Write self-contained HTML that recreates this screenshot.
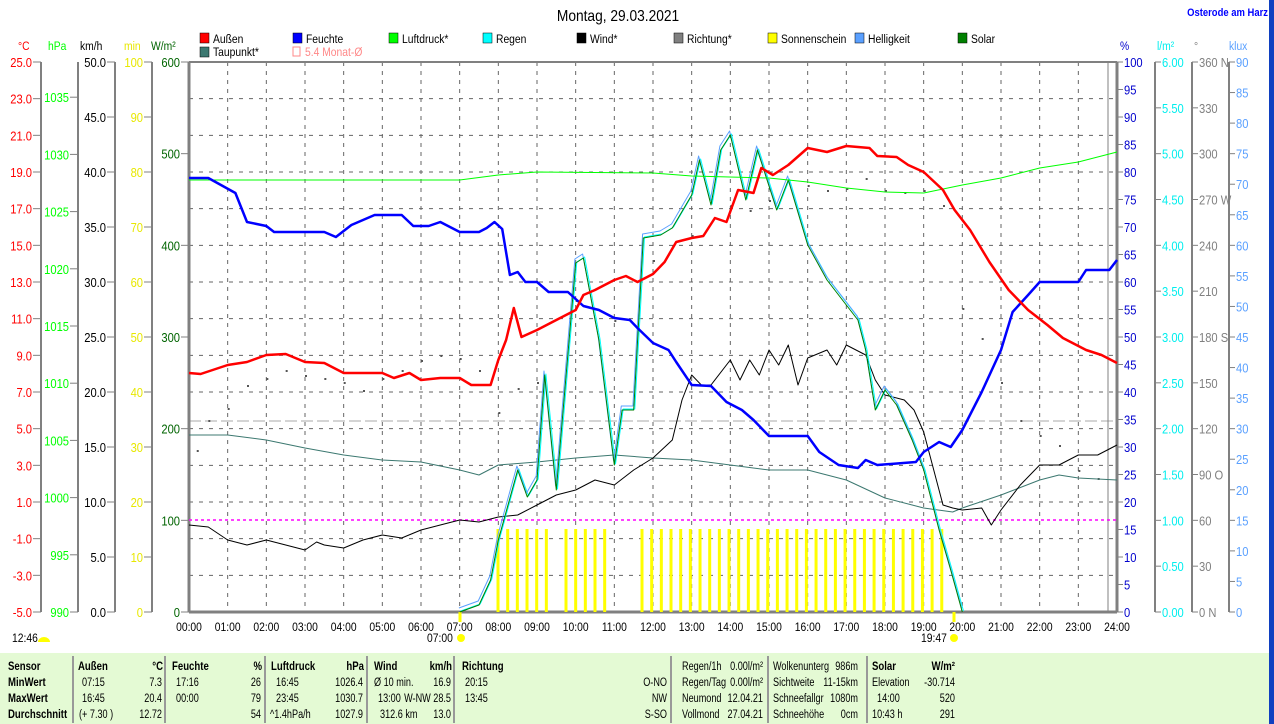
<!DOCTYPE html>
<html><head><meta charset="utf-8">
<style>
html,body{margin:0;padding:0;background:#fff;width:1274px;height:724px;overflow:hidden;font-family:"Liberation Sans",sans-serif}
svg{position:absolute;left:0;top:0}
</style></head><body>
<svg id="s" width="1274" height="724" xmlns="http://www.w3.org/2000/svg" font-family="Liberation Sans, sans-serif" font-size="12"></svg>
<script>
const S=document.getElementById('s');let o='';
const X0=189,X1=1117,Y0=62,Y1=612,PH=(X1-X0)/24;
const hx=h=>X0+h*PH;
function t(x,y,s,c,a,extra,sx){sx=sx||0.86;o+=`<text transform="translate(${x},${y}) scale(${sx},1)" fill="${c||'#000'}" text-anchor="${a||'start'}" ${extra||''}>${s}</text>`;}
function ln(x1,y1,x2,y2,c,w,d){o+=`<line x1="${x1}" y1="${y1}" x2="${x2}" y2="${y2}" stroke="${c}" stroke-width="${w||1}" ${d?`stroke-dasharray="${d}"`:''}/>`;}
function pl(pts,c,w){o+=`<polyline fill="none" stroke="${c}" stroke-width="${w||1}" stroke-linejoin="round" points="${pts.map(p=>hx(p[0]).toFixed(1)+','+p[1]).join(' ')}"/>`;}
o+=`<rect x="0" y="653" width="1274" height="71" fill="#e4fad4"/>`;
o+=`<rect x="1269" y="0" width="5" height="724" fill="#1040c0"/>`;
for(let i=1;i<15;i++){const y=Y0+i*550/15;ln(X0,y,X1,y,'#666',1,'4,6');}
for(let h=1;h<24;h++){ln(hx(h),Y0,hx(h),Y1,'#666',1,'4,5');}
ln(X0,421,X1,421,'#aaa',1,'12,4');
ln(X0,Y0,X1,Y0,'#808080',2);ln(X0,Y1,X1,Y1,'#808080',3);ln(X0,Y0,X0,Y1,'#808080',3);ln(X1,Y0,X1,Y1,'#808080',3);ln(1108,Y0,1108,Y1,'#808080',1);
const LA=[[41,'#f00',25,-5,2,1,'°C',18],[115,'#000',50,0,5,1,'km/h',80],[152,'#e8e800',100,0,10,0,'min',124],[189,'#006400',600,0,100,0,'W/m²',151]];
for(const [ax,c,top,bot,st,dec,u,ux] of LA){ln(ax,Y0,ax,Y1,'#808080',2);const n=Math.round((top-bot)/st);
 for(let i=0;i<=n;i++){const y=Y0+i*550/n;ln(ax-8,y,ax,y,'#808080');t(ax-9,y+5,(top-i*st).toFixed(dec),c,'end','font-size="13"');}
 t(ux,50,u,c,'start','font-size="12"');}
ln(78,Y0,78,Y1,'#808080',2);
for(let v=990;v<=1035;v+=5){const y=612-(v-990)*11.44;ln(70,y,78,y,'#808080');t(69,y+5,v,'#0f0','end','font-size="13"');}
t(48,50,'hPa','#0f0');
function ra(ax,c,top,n,st,dec,lab,u,ux){ln(ax,Y0,ax,Y1,'#808080',2);for(let i=0;i<=n;i++){const y=Y0+i*550/n;ln(ax,y,ax+6,y,'#808080');t(ax+7,y+5,lab?lab[i]:(top-i*st).toFixed(dec),c,'start','font-size="13"');}t(ux,50,u,c);}
ra(1117,'#00c',100,20,5,0,null,'%',1120);
ra(1155,'#0ee',6,12,0.5,2,null,'l/m²',1157);
ra(1192,'#808080',360,12,30,0,['360 N','330','300','270 W','240','210','180 S','150','120','90 O','60','30','0 N'],'°',1194);
ra(1229,'#5aa0ff',90,18,5,0,null,'klux',1229);
for(let h=0;h<=24;h++)t(hx(h),631,(h<10?'0':'')+h+':00','#000','middle','font-size="12"');
t(12,642,'12:46');o+=`<path d="M38,642 a6,5 0 0 1 12,0z" fill="#ff0"/>`;
t(427,642,'07:00');o+=`<circle cx="461" cy="638" r="4" fill="#ff0"/>`;ln(460,612,460,622,'#ff0',3);
t(921,642,'19:47');o+=`<circle cx="954" cy="638" r="4" fill="#ff0"/>`;ln(954,612,954,622,'#ff0',3);
const bx=[];for(let x=498;x<=547;x+=9.67)bx.push(x);for(let x=566;x<=605;x+=9.67)bx.push(x);for(let x=642;x<=946;x+=9.67)bx.push(x);
for(const x of bx)o+=`<rect x="${x-1.5}" y="529" width="3" height="83" fill="#ff0"/>`;
ln(X0,520,X1,520,'#f0f',1.5,'3,3');
const dd=[[0.2,450],[0.5,420],[1,408],[1.5,385],[2,378],[2.5,370],[3,375],[3.5,378],[4,382],[4.5,390],[5,378],[5.5,370],[6,360],[6.5,355],[7,358],[7.5,370],[8,412],[8.5,388],[9,382],[10,300],[11,320],[12,260],[12.5,245],[13,235],[14,205],[14.5,210],[15,200],[16,185],[16.5,190],[17,188],[17.5,178],[18,190],[18.5,192],[19,190],[19.5,205],[20,308],[20.5,338],[21,382],[21.5,420],[22,435],[22.5,445],[23,470],[23.5,478]];
for(const [h,y] of dd)o+=`<rect x="${hx(h)}" y="${y}" width="2" height="2" fill="#555"/>`;
const taup=[[0,435],[1,435],[2,440],[3,448],[4,455],[5,460],[6,462],[7,470],[7.5,475],[8,465],[9,462],[10,458],[11,455],[12,458],[13,460],[14,465],[15,470],[16,470],[17,480],[18,498],[19,508],[19.75,512],[20,508],[21,495],[22,480],[22.5,475],[23,478],[24,480]];
pl(taup,'#3c7870',1);
const wind=[[0,525],[0.5,527],[1,540],[1.5,545],[2,540],[2.5,545],[3,550],[3.3,542],[3.5,545],[4,548],[4.5,540],[5,535],[5.5,538],[6,530],[6.5,525],[7,520],[7.5,522],[8,517],[8.5,515],[9,505],[9.5,495],[10,490],[10.5,480],[11,485],[11.5,470],[12,458],[12.5,440],[12.75,400],[13,375],[13.25,385],[13.5,385],[14,360],[14.25,380],[14.5,360],[14.75,375],[15,350],[15.25,365],[15.5,345],[15.75,385],[16,358],[16.5,350],[16.75,365],[17,345],[17.5,355],[17.75,380],[18,395],[18.5,400],[18.75,410],[19,432],[19.5,505],[19.75,508],[20,510],[20.5,508],[20.75,525],[21,510],[21.5,485],[22,465],[22.5,465],[23,455],[23.5,455],[24,445]];
pl(wind,'#000',1);
const sol=[[7,612],[7.5,605],[7.8,580],[8,540],[8.5,470],[8.75,497],[9,480],[9.2,375],[9.5,490],[10,263],[10.2,258],[10.6,340],[11,465],[11.2,410],[11.5,410],[11.75,238],[12.2,235],[12.5,228],[13,195],[13.2,160],[13.5,205],[13.75,150],[14,135],[14.4,200],[14.7,150],[15.2,210],[15.5,180],[16,245],[16.5,280],[17,305],[17.3,320],[17.5,350],[17.75,410],[18,390],[18.3,405],[18.7,440],[19,470],[19.4,530],[19.7,570],[20,612]];
pl(sol.map(p=>[p[0]+0.03,p[1]-1]),'#0ff',1);
pl(sol.map(p=>[p[0]-0.02,p[1]-4]),'#5aa0ff',1);
pl(sol,'#008000',1);
const pres=[[0,180],[7,180],[8,175],[9,172],[12,173],[13,176],[15,178],[16,182],[17,188],[18,192],[19,193],[20,185],[21,178],[22,168],[23,162],[24,152]];
pl(pres,'#0f0',1);
const hum=[[0,178],[0.5,178],[1.2,193],[1.5,222],[2,226],[2.2,232],[3,232],[3.5,232],[3.8,237],[4.2,225],[4.8,215],[5.5,215],[5.8,226],[6.2,226],[6.5,222],[7,232],[7.5,232],[7.7,228],[7.9,222],[8.1,229],[8.3,275],[8.5,272],[8.7,282],[9,282],[9.3,292],[9.8,292],[10.2,306],[10.6,310],[11,318],[11.4,320],[11.6,328],[12,343],[12.4,350],[12.6,362],[13,385],[13.5,386],[13.9,402],[14.3,410],[14.6,420],[15,436],[16,436],[16.3,452],[16.8,465],[17.3,468],[17.5,460],[17.8,465],[18.8,462],[19,452],[19.4,442],[19.7,447],[20,430],[20.5,392],[21,350],[21.3,312],[21.7,295],[22,282],[22.4,282],[23,282],[23.2,270],[23.8,270],[24,260]];
pl(hum,'#00f',2.5);
const tmp=[[0,373],[0.3,374],[1,365],[1.5,362],[2,355],[2.5,354],[3,362],[3.5,363],[4,373],[4.5,373],[5,373],[5.3,378],[5.7,373],[6,380],[6.5,378],[7,378],[7.3,385],[7.8,385],[8,360],[8.2,340],[8.4,308],[8.6,337],[9,330],[9.5,320],[10,310],[10.2,295],[10.5,290],[11,280],[11.3,276],[11.6,282],[12,274],[12.3,262],[12.6,242],[13,238],[13.3,236],[13.6,218],[13.9,222],[14.2,190],[14.6,193],[14.8,168],[15.1,175],[15.5,165],[16,148],[16.5,152],[17,146],[17.6,148],[17.8,156],[18.3,157],[18.6,165],[19,172],[19.5,190],[19.8,210],[20.2,230],[20.7,262],[21.2,290],[21.7,310],[22.2,325],[22.6,338],[23.2,350],[23.6,355],[24,363]];
pl(tmp,'#f00',2.5);
t(618,21,'Montag, 29.03.2021','#000','middle','font-size="16"');
t(1268,16,'Osterode am Harz','#00f','end','font-size="11" font-weight="bold"');
const lg=[[200,'#f00','Außen'],[293,'#00f','Feuchte'],[389,'#0f0','Luftdruck*'],[483,'#0ff','Regen'],[577,'#000','Wind*'],[674,'#808080','Richtung*'],[768,'#ff0','Sonnenschein'],[855,'#5aa0ff','Helligkeit'],[958,'#008000','Solar']];
for(const [x,c,l] of lg){o+=`<rect x="${x}" y="33" width="9" height="10" fill="${c}" stroke="#000" stroke-width="0.5"/>`;t(x+13,43,l,'#000','start','font-size="12"');}
o+=`<rect x="200" y="47" width="9" height="10" fill="#3c7870" stroke="#000" stroke-width="0.5"/>`;t(213,56,'Taupunkt*');
o+=`<rect x="293" y="47" width="7" height="9" fill="none" stroke="#f88"/>`;t(305,56,'5.4 Monat-Ø','#f88');
[73,165,265,367,454,671,768,867].forEach(x=>ln(x,656,x,723,'#999',2));
const ry=[670,686,702,718];
const B='font-weight="bold"';
function c(x,r,s,a,b){t(x,ry[r],s,'#000',a||'start','font-size="12" '+(b?B:''),b?0.8:0.76);}
c(8,0,'Sensor',0,1);c(8,1,'MinWert',0,1);c(8,2,'MaxWert',0,1);c(8,3,'Durchschnitt',0,1);
c(78,0,'Außen',0,1);c(163,0,'°C','end',1);c(82,1,'07:15');c(162,1,'7.3','end');c(82,2,'16:45');c(162,2,'20.4','end');c(79,3,'(+ 7.30 )');c(162,3,'12.72','end');
c(172,0,'Feuchte',0,1);c(262,0,'%','end',1);c(176,1,'17:16');c(261,1,'26','end');c(176,2,'00:00');c(261,2,'79','end');c(261,3,'54','end');
c(271,0,'Luftdruck',0,1);c(364,0,'hPa','end',1);c(276,1,'16:45');c(363,1,'1026.4','end');c(276,2,'23:45');c(363,2,'1030.7','end');c(270,3,'^1.4hPa/h');c(363,3,'1027.9','end');
c(374,0,'Wind',0,1);c(452,0,'km/h','end',1);c(374,1,'Ø 10 min.');c(451,1,'16.9','end');c(378,2,'13:00');c(451,2,'W-NW 28.5','end');c(380,3,'312.6 km');c(451,3,'13.0','end');
c(462,0,'Richtung',0,1);c(465,1,'20:15');c(465,2,'13:45');c(667,1,'O-NO','end');c(667,2,'NW','end');c(667,3,'S-SO','end');
c(682,0,'Regen/1h');c(763,0,'0.00l/m²','end');c(682,1,'Regen/Tag');c(763,1,'0.00l/m²','end');c(682,2,'Neumond');c(763,2,'12.04.21','end');c(682,3,'Vollmond');c(763,3,'27.04.21','end');
c(773,0,'Wolkenunterg');c(858,0,'986m','end');c(773,1,'Sichtweite');c(858,1,'11-15km','end');c(773,2,'Schneefallgr');c(858,2,'1080m','end');c(773,3,'Schneehöhe');c(858,3,'0cm','end');
c(872,0,'Solar',0,1);c(955,0,'W/m²','end',1);c(872,1,'Elevation');c(955,1,'-30.714','end');c(877,2,'14:00');c(955,2,'520','end');c(872,3,'10:43 h');c(955,3,'291','end');
S.innerHTML=o;
</script>
</body></html>
